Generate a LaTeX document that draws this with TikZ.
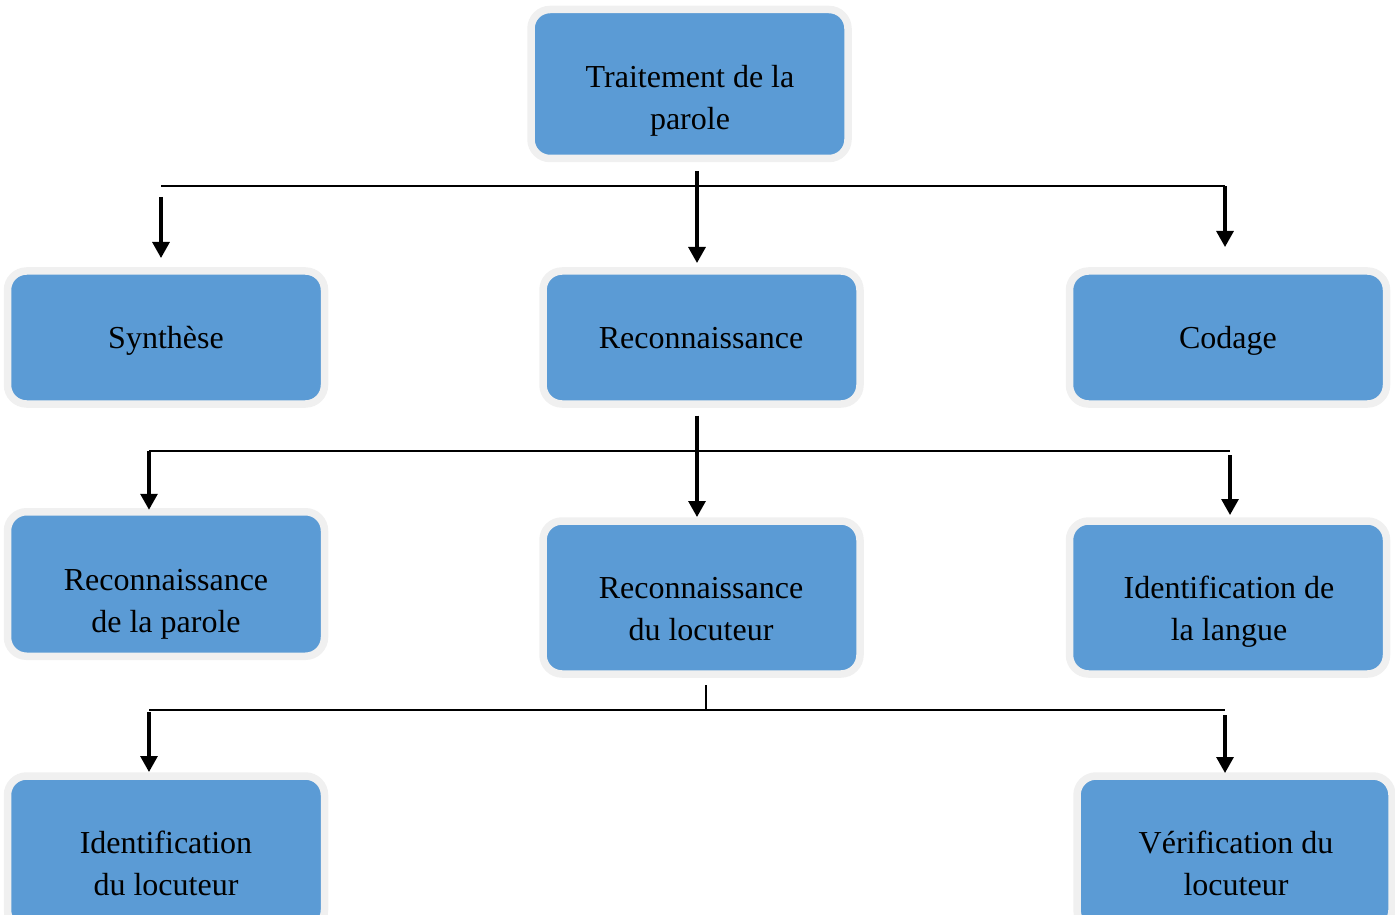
\documentclass[tikz,border=0pt]{standalone}
\usepackage{fontspec}
\setmainfont{Liberation Serif}
\usetikzlibrary{arrows.meta}

\definecolor{boxfill}{HTML}{5B9BD5}
\definecolor{boxedge}{HTML}{F0F0F0}

\tikzset{
  box/.style={draw=boxedge, line width=3.75pt, fill=boxfill,
    rounded corners=9.5pt, inner sep=0pt, outer sep=0pt,
    minimum width=158.5pt, minimum height=66.5pt},
  label text/.style={anchor=base, inner sep=0pt, text=black,
    font=\fontsize{16}{21}\selectfont},
  bus/.style={draw=black, line width=1pt},
  trunk/.style={draw=black, line width=0.8pt},
  arr/.style={draw=black, line width=1.55pt,
    -{Triangle[width=8.5pt,length=8pt]}},
}

\newcommand{\twolines}[2]{\begin{tabular}[t]{@{}c@{}}#1\\#2\end{tabular}}

\begin{document}
\begin{tikzpicture}[x=0.5pt, y=-0.5pt]
\useasboundingbox (0,0) rectangle (1395,914);

% ---- boxes ----
\node[box, minimum height=74.5pt] (top)   at (689.5,84)   {};
\node[box]                        (syn)   at (166,337.5)  {};
\node[box]                        (rec)   at (701.5,337.5){};
\node[box]                        (cod)   at (1228,337.5) {};
\node[box, minimum height=72.25pt](recp)  at (166,584)    {};
\node[box, minimum height=76.5pt] (recl)  at (701.5,597.5){};
\node[box, minimum height=76.5pt] (idl)   at (1228,597.5) {};
\node[box, minimum height=76.5pt] (idloc) at (166,852.5)  {};
\node[box, minimum height=76.5pt, minimum width=157.5pt] (ver) at (1234.5,852.5) {};

% ---- texts ----
\node[label text] (top-t)   at (690,88)   {\twolines{Traitement de la}{parole}};
\node[label text] (syn-t)   at (166,349)  {Synthèse};
\node[label text] (rec-t)   at (701,349)  {Reconnaissance};
\node[label text] (cod-t)   at (1228,349) {Codage};
\node[label text] (recp-t)  at (166,590)  {\twolines{Reconnaissance}{de la parole}};
\node[label text] (recl-t)  at (701,598.5){\twolines{Reconnaissance}{du locuteur}};
\node[label text] (idl-t)   at (1229,598.5){\twolines{Identification de}{la langue}};
\node[label text] (idloc-t) at (166,853.5){\twolines{Identification}{du locuteur}};
\node[label text] (ver-t)   at (1236,853.5){\twolines{Vérification du}{locuteur}};

% ---- first level ----
\coordinate (b1) at (161,186);
\coordinate (b2) at (1225,186);
\draw[bus] (b1) -- (b2);
\draw[arr, shorten >=4pt] ([yshift=-6.25pt]top.south -| 697,0) -- (rec.north -| 697,0);
\draw[arr, shorten >=6.5pt] ([yshift=-5.5pt]b1) -- (b1 |- syn.north);
\draw[arr, shorten >=12pt] (b2) -- (b2 |- cod.north);

% ---- second level ----
\coordinate (c1) at (149,451);
\coordinate (c2) at (1230,451);
\draw[bus] (c1) -- (c2);
\draw[arr, shorten >=2pt] ([yshift=-5.75pt]rec.south -| 697,0) -- (recl.north -| 697,0);
\draw[arr, shorten >=1pt] (c1) -- (c1 |- recp.north);
\draw[arr, shorten >=3pt] ([yshift=-2pt]c2) -- (c2 |- idl.north);

% ---- third level ----
\coordinate (d0) at (706,710);
\coordinate (d1) at (149,710);
\coordinate (d2) at (1225,710);
\draw[trunk] ([yshift=12.5pt]d0) -- (d0);
\draw[bus] (d1) -- (d2);
\draw[arr, shorten >=2pt] ([yshift=-1pt]d1) -- (d1 |- idloc.north);
\draw[arr, shorten >=1.5pt] ([yshift=-2.5pt]d2) -- (d2 |- ver.north);
\end{tikzpicture}
\end{document}
